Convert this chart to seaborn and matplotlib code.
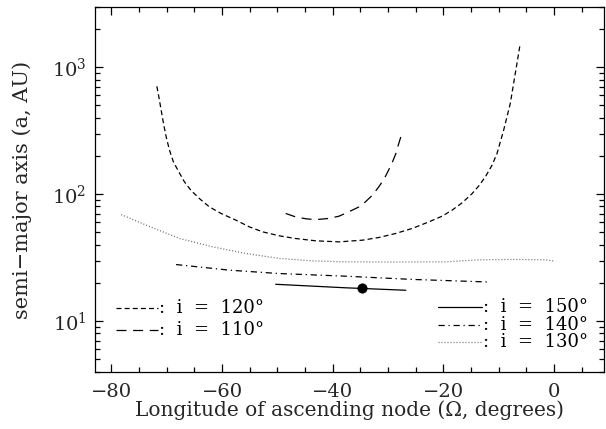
import numpy as np
import pandas as pd
import matplotlib
matplotlib.use("Agg")
import matplotlib.pyplot as plt
import seaborn as sns
from matplotlib.ticker import LogLocator, MultipleLocator, LogFormatterMathtext, NullFormatter

# ---- data ----
omega_120 = [-71.77, -71.41, -70.99, -70.57, -70.09, -69.49, -68.77, -67.81, -66.79, -65.59,
             -64.09, -62.28, -60.18, -57.48, -55.08, -52.67, -49.67, -46.79, -43.06, -38.86,
             -34.65, -31.65, -28.65, -25.64, -22.64, -20.24, -18.43, -16.63, -14.83, -13.63,
             -12.43, -11.23, -10.33, -9.13, -7.93, -7.03, -6.13]
a_120 = [708, 583, 458, 360, 283, 222, 179, 150, 125, 107,
         92.4, 79.4, 70.5, 62.4, 55.3, 50.5, 47, 44.8, 42.9, 42.1,
         43.4, 45.6, 49, 53.7, 60.5, 67.1, 74.9, 85.5, 101, 116,
         137, 169, 209, 319, 518, 891, 1537]

omega_110 = [-48.5, -46.7, -44.86, -43.1, -40.7, -38.86, -37.1, -35.26, -34.1, -32.85,
             -31.7, -30.75, -29.9, -29.24, -28.6, -28.17, -27.7]
a_110 = [70.5, 66.2, 64, 63, 64.4, 67.1, 72.6, 79.4, 87, 98,
         114, 131, 155, 178, 209, 243, 283]

omega_130 = [-78.2, -73.7, -67.7, -61.7, -55.7, -49.7, -43.7, -37.8, -30.0, -19.6, -13.7, -7.0, -1.6, 0.2]
a_130 = [69, 57, 44.8, 38.5, 34.1, 31.2, 29.8, 29.3, 29.2, 29.3, 30.4, 30.6, 30.4, 29.6]

omega_140 = [-68.3, -58.7, -49.7, -37.8, -25.6, -11.5]
a_140 = [27.9, 25.2, 23.7, 22.6, 21.3, 20.3]

omega_150 = [-50.3, -37.7, -26.8]
a_150 = [19.5, 18.3, 17.5]

dot_omega = [-34.8]
dot_a = [18.2]

legend_left = [":  i  =  120°", ":  i  =  110°"]
legend_right = [":  i  =  150°", ":  i  =  140°", ":  i  =  130°"]

# ---- style ----
sns.set_theme(style="ticks")
plt.rcParams["font.family"] = ["DejaVu Serif"]
plt.rcParams["mathtext.fontset"] = "dejavuserif"
plt.rcParams["axes.linewidth"] = 0.9

W, H = 606, 429
fig = plt.figure(figsize=(W / 100, H / 100), dpi=100)
AX_L, AX_R, AX_T, AX_B = 94.7, 604.0, 6.7, 372.3
ax = fig.add_axes([AX_L / W, 1 - AX_B / H, (AX_R - AX_L) / W, (AX_B - AX_T) / H])

lw = 0.9
D120 = [4, 2.5]
D110 = [8, 5.3]
D130 = [0.8, 1.6]
D140 = [5, 3, 1, 3]
GRAY = "#666666"

sns.lineplot(x=omega_120, y=a_120, ax=ax, color="black", lw=lw, sort=False, estimator=None)
ax.lines[-1].set_dashes(D120)
sns.lineplot(x=omega_110, y=a_110, ax=ax, color="black", lw=lw, sort=False, estimator=None)
ax.lines[-1].set_dashes(D110)
sns.lineplot(x=omega_130, y=a_130, ax=ax, color=GRAY, lw=lw, sort=False, estimator=None)
ax.lines[-1].set_dashes(D130)
sns.lineplot(x=omega_140, y=a_140, ax=ax, color="black", lw=lw, sort=False, estimator=None)
ax.lines[-1].set_dashes(D140)
sns.lineplot(x=omega_150, y=a_150, ax=ax, color="black", lw=lw, sort=False, estimator=None)
sns.scatterplot(x=dot_omega, y=dot_a, ax=ax, color="black", s=45, edgecolor="black", zorder=5)

ax.set_yscale("log")
ax.set_xlim(-83, 9)
ax.set_ylim(3.95, 3000)

ax.xaxis.set_major_locator(MultipleLocator(20))
ax.xaxis.set_minor_locator(MultipleLocator(5))
ax.yaxis.set_major_locator(LogLocator(base=10))
ax.yaxis.set_minor_locator(LogLocator(base=10, subs=np.arange(2, 10)))
ax.yaxis.set_major_formatter(LogFormatterMathtext())
ax.yaxis.set_minor_formatter(NullFormatter())
ax.tick_params(which="both", direction="in", top=True, right=True, labelsize=14, color="black")
ax.tick_params(which="major", length=6, width=0.9)
ax.tick_params(which="minor", length=3.5, width=0.9)
ax.tick_params(axis="x", pad=8)
ax.tick_params(axis="y", pad=6)
for s in ax.spines.values():
    s.set_color("black")

ax.set_xlabel("Longitude of ascending node (Ω, degrees)", fontsize=14.5, labelpad=-1)
ax.set_ylabel("semi−major axis (a, AU)", fontsize=15, labelpad=14)


# legends drawn as keys + text in axes fraction
def fx(px):
    return (px - AX_L) / (AX_R - AX_L)


def fy(py):
    return (AX_B - py) / (AX_B - AX_T)


def key(x0, x1, y, color, dashes, label):
    ln, = ax.plot([fx(x0), fx(x1)], [fy(y), fy(y)], transform=ax.transAxes,
                  color=color, lw=lw, clip_on=False)
    if dashes is not None:
        ln.set_dashes(dashes)
    ax.text(fx(x1 + 1), fy(y), label, transform=ax.transAxes, fontsize=13,
            ha="left", va="center", color="black")


key(116, 158, 308, "black", D120, legend_left[0])
key(116, 158, 330, "black", D110, legend_left[1])
key(438, 482, 307, "black", None, legend_right[0])
key(438, 482, 324.5, "black", D140, legend_right[1])
key(438, 482, 342, GRAY, D130, legend_right[2])

fig.savefig("out.png", dpi=100)
